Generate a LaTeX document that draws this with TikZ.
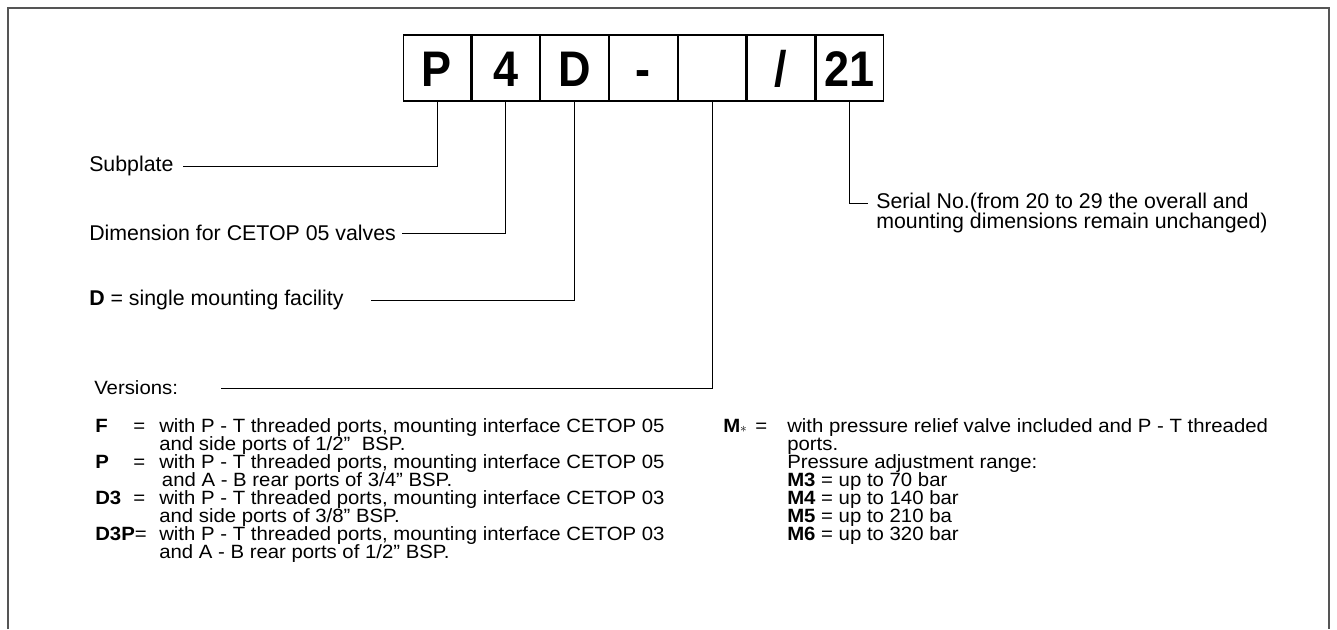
\documentclass[tikz,border=0pt]{standalone}
\usepackage{fontspec}
\setmainfont{Liberation Sans}
\newfontfamily\narrowsans[FakeStretch=0.9]{Liberation Sans}
\newfontfamily\listsans[FakeStretch=1.06]{Liberation Sans}
\usetikzlibrary{positioning}
\definecolor{framegray}{RGB}{85,85,85}
\newcommand{\lblfont}{\fontsize{16}{15}\selectfont\lineskiplimit=-20pt\relax}
\newcommand{\listfont}{\listsans\fontsize{14.4}{13.5}\selectfont\lineskiplimit=-20pt\relax}
\newcommand{\codefont}{\narrowsans\fontsize{37.5}{40}\selectfont\bfseries}
\newcommand{\keyF}[1]{\makebox[28.5pt][l]{\textbf{#1}}\makebox[19.5pt][l]{=}}
\newcommand{\keyM}[1]{\makebox[24pt][l]{\textbf{#1}}\makebox[24pt][l]{=}}

\begin{document}
\begin{tikzpicture}[x=0.75pt, y=-0.75pt,
  code/.style={draw, line width=0.9pt, inner sep=0pt, minimum width=50.7pt,
               minimum height=49.5pt, text height=27.5pt, text depth=0pt, font=\codefont},
  lbl/.style={anchor=west, inner sep=0pt, font=\lblfont},
  vlist/.style={anchor=north west, inner sep=0pt, align=left, font=\listfont},
  lead/.style={line width=0.75pt}
]
\useasboundingbox (0,0) rectangle (1337,629);
\draw[framegray, line width=1.3pt] (8,629) -- (8,8) -- (1329,8) -- (1329,629);

% code boxes
\node[code] (bP) at (437,68) {P};
\node[code, right=0pt of bP] (b4) {4};
\node[code, right=0pt of b4] (bD) {D};
\node[code, right=0pt of bD] (bdash) {-};
\node[code, right=0pt of bdash] (bblank) {};
\node[code, right=0pt of bblank] (bslash) {/};
\node[code, right=0pt of bslash] (bser) {21};

% labels
\node[lbl] (subplate) at (89,166) {Subplate};
\node[lbl] (dimension) at (89,233) {Dimension for CETOP 05 valves};
\node[lbl] (mounting) at (89,300) {\textbf{D} = single mounting facility};
\node[lbl, font=\listfont] (versions) at (94,388) {Versions:};
\node[lbl, align=left] (serial) at (876,213)
  {Serial No.(from 20 to 29 the overall and\\mounting dimensions remain unchanged)};

\draw[lead] (bP.south) |- ([xshift=7pt]subplate.east);
\draw[lead] (b4.south) |- ([xshift=4pt]dimension.east);
\draw[lead] (bD.south) |- ([xshift=20pt]mounting.east);
\draw[lead] (bblank.south) |- ([xshift=32pt]versions.east);
\draw[lead] (bser.south) |- ([shift={(-6pt,7.5pt)}]serial.west);

% versions
\node[vlist] (versionlist) at (95,418.5) {%
  \keyF{F}with P - T threaded ports, mounting interface CETOP 05\\
  \hspace*{48pt}and side ports of 1/2”~ BSP.\\
  \keyF{P}with P - T threaded ports, mounting interface CETOP 05\\
  \hspace*{50pt}and A - B rear ports of 3/4” BSP.\\
  \keyF{D3}with P - T threaded ports, mounting interface CETOP 03\\
  \hspace*{48pt}and side ports of 3/8” BSP.\\
  \makebox[48pt][l]{\textbf{D3P}=}with P - T threaded ports, mounting interface CETOP 03\\
  \hspace*{48pt}and A - B rear ports of 1/2” BSP.};
\node[vlist] (mlist) at (723,418.5) {%
  \keyM{M$\scriptstyle\ast$}with pressure relief valve included and P - T threaded\\
  \hspace*{48pt}ports.\\
  \hspace*{48pt}Pressure adjustment range:\\
  \hspace*{48pt}\textbf{M3} = up to 70 bar\\
  \hspace*{48pt}\textbf{M4} = up to 140 bar\\
  \hspace*{48pt}\textbf{M5} = up to 210 ba\\
  \hspace*{48pt}\textbf{M6} = up to 320 bar};
\end{tikzpicture}
\end{document}
